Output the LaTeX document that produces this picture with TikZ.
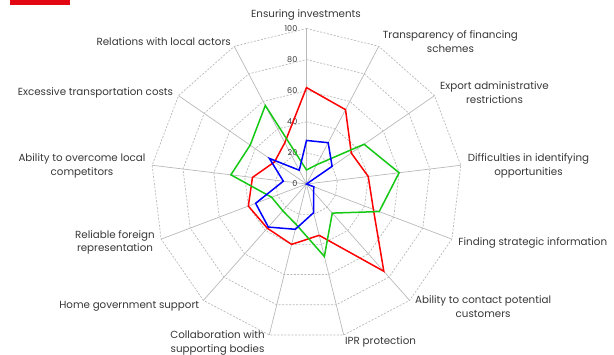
\documentclass[tikz,border=0pt]{standalone}
\usepackage{fontspec}
\setmainfont{Poppins}
\usepackage{tikz}

\definecolor{seriesred}{RGB}{255,0,0}
\definecolor{seriesgreen}{RGB}{20,200,20}
\definecolor{seriesblue}{RGB}{0,0,255}
\definecolor{gridgray}{RGB}{185,185,185}
\definecolor{labelgray}{RGB}{55,55,55}
\definecolor{bannerred}{RGB}{227,6,19}

\begin{document}
\begin{tikzpicture}[x=1pt, y=1pt]
        \tikzstyle{every node}=[inner sep=0pt, text=labelgray, align=center, font=\fontsize{10.3}{13.8}\selectfont]
        \tikzstyle{spoke}=[draw=gridgray, line width=0.7pt]
        \tikzstyle{ring}=[draw=gridgray, line width=0.7pt, dash pattern=on 2pt off 1.5pt]
        \tikzstyle{tick}=[anchor=east, font=\fontsize{8}{9}\selectfont]
        \tikzstyle{series}=[line width=1.5pt, line join=miter]

        \useasboundingbox (-306.5,-170) rectangle (307.5,184);
        \fill[bannerred] (-296.5,184) rectangle (-236,179);

        % grid
        \foreach \v in {20,40,...,100}
            \draw[ring] (90:\v*1.555) \foreach \k in {1,...,12} { -- (90-\k*360/13:\v*1.555) } -- cycle;
        \foreach \k in {0,...,12}
            \draw[spoke] (0,0) -- (90-\k*360/13:155.5);
        \foreach \v in {0,20,...,100}
            \node[tick] (t\v) at (-9,\v*1.555) {\v};

        % axis labels
        \node (l0)  [anchor=center] at (-0.5,169)   {Ensuring investments};
        \node (l1)  [anchor=west]   at (76.2,142.5) {Transparency of financing\\schemes};
        \node (l2)  [anchor=west]   at (133.5,91)   {Export administrative\\restrictions};
        \node (l3)  [anchor=west]   at (161.2,18)   {Difficulties in identifying\\opportunities};
        \node (l4)  [anchor=west]   at (151.8,-58.7) {Finding strategic information};
        \node (l5)  [anchor=west]   at (108.5,-122.7) {Ability to contact potential\\customers};
        \node (l6)  [anchor=west]   at (38.5,-158.3) {IPR protection};
        \node (l7)  [anchor=east]   at (-41.5,-159) {Collaboration with\\supporting bodies};
        \node (l8)  [anchor=east]   at (-107.2,-122.7) {Home government support};
        \node (l9)  [anchor=east]   at (-151.5,-58.5) {Reliable foreign\\representation};
        \node (l10) [anchor=east]   at (-160.8,18)  {Ability to overcome local\\competitors};
        \node (l11) [anchor=east]   at (-133.2,91.3) {Excessive transportation costs};
        \node (l12) [anchor=east]   at (-75.5,142.3) {Relations with local actors};

        % data points
        \foreach \val [count=\k from 0] in {62,54,35,40,46,75,34,40,38,40,35,25,30}
            \coordinate (r\k) at (90-\k*360/13:\val*1.555);
        \foreach \val [count=\k from 0] in {9,14,45,60,50,25,48,27,23,24,49,44,57}
            \coordinate (g\k) at (90-\k*360/13:\val*1.555);
        \foreach \val [count=\k from 0] in {28,30,20,0,5,7,19,30,37,35,15,29,10}
            \coordinate (b\k) at (90-\k*360/13:\val*1.555);

        \draw[series, seriesred]   (r0) -- (r1) -- (r2) -- (r3) -- (r4) -- (r5) -- (r6) -- (r7) -- (r8) -- (r9) -- (r10) -- (r11) -- (r12) -- cycle;
        \draw[series, seriesgreen] (g0) -- (g1) -- (g2) -- (g3) -- (g4) -- (g5) -- (g6) -- (g7) -- (g8) -- (g9) -- (g10) -- (g11) -- (g12) -- cycle;
        \draw[series, seriesblue]  (b0) -- (b1) -- (b2) -- (b3) -- (b4) -- (b5) -- (b6) -- (b7) -- (b8) -- (b9) -- (b10) -- (b11) -- (b12) -- cycle;
\end{tikzpicture}
\end{document}
